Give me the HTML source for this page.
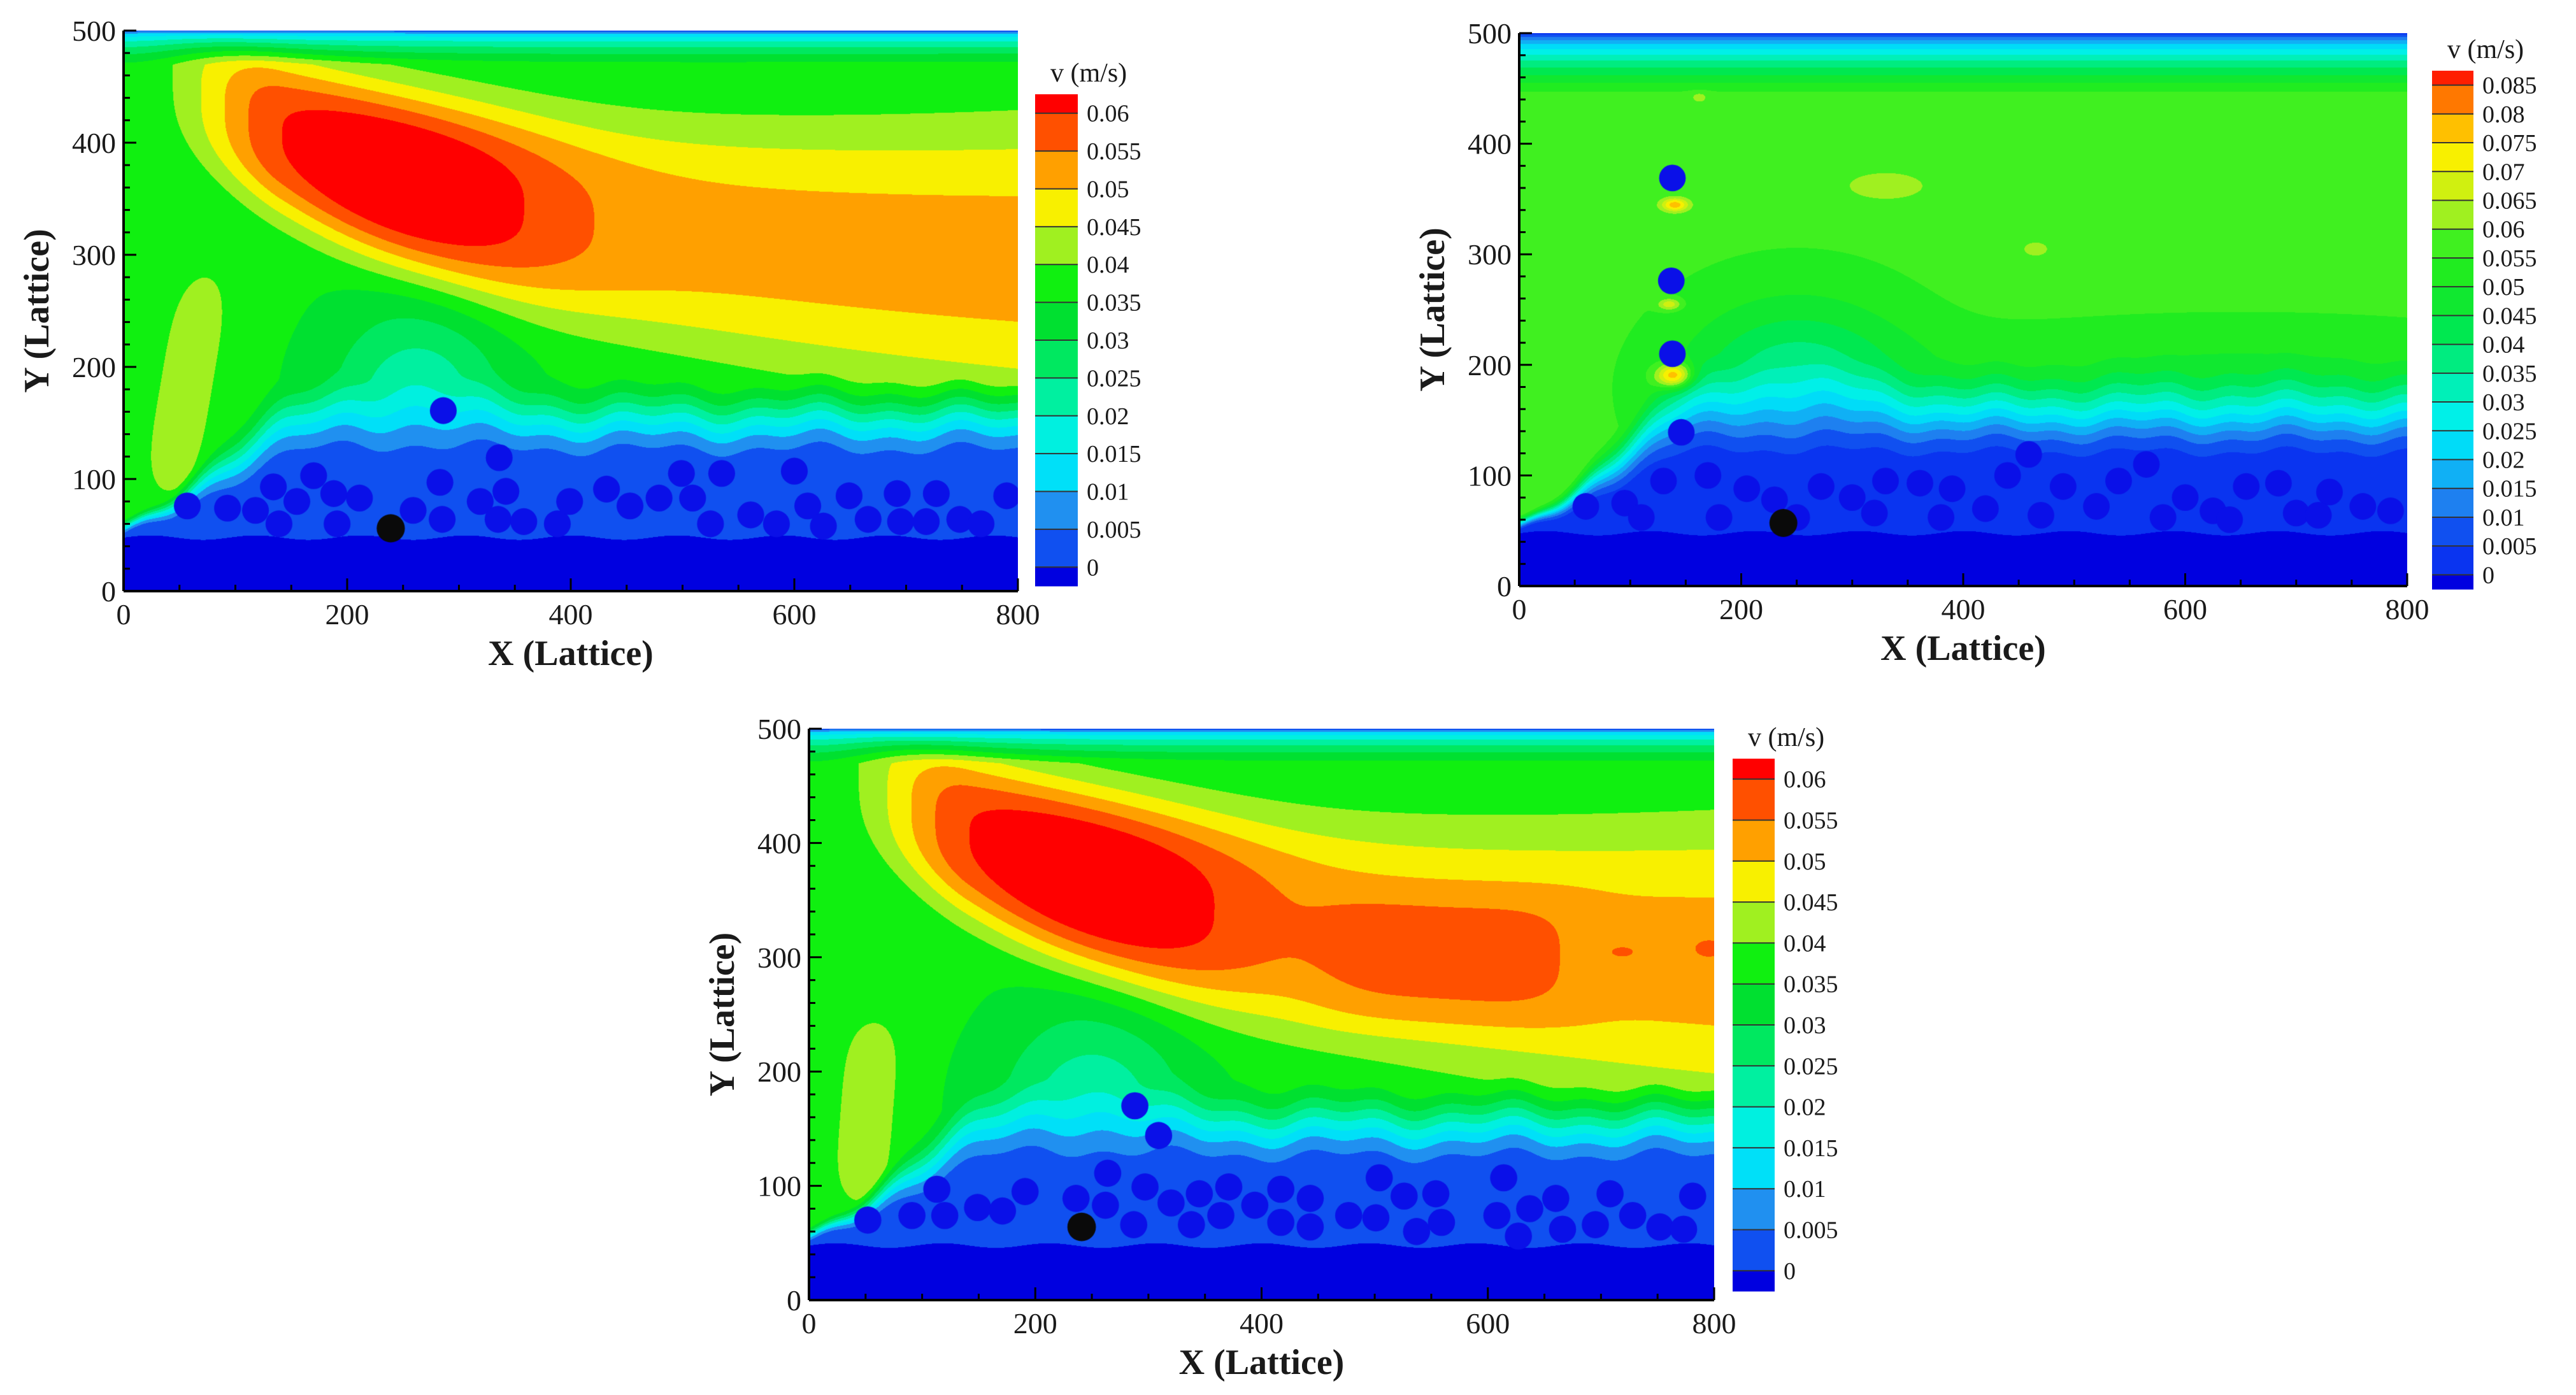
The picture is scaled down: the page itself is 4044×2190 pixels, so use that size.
<!DOCTYPE html>
<html><head><meta charset="utf-8">
<style>
html,body{margin:0;padding:0;background:#fff;}
#root{position:relative;width:4044px;height:2190px;overflow:hidden;background:#fff;}
canvas{position:absolute;}
svg{position:absolute;left:0;top:0;}
text{font-family:"Liberation Serif",serif;fill:#1a1a1a;}
</style></head>
<body>
<div id="root">
<canvas id="c1"></canvas>
<canvas id="c2"></canvas>
<canvas id="c3"></canvas>
<svg id="ov" width="4044" height="2190"></svg>
</div>
<script>
// ---- data ----
const xTicks = [0,200,400,600,800];
const yTicks = [0,100,200,300,400,500];
const cbLabels1 = ["0","0.005","0.01","0.015","0.02","0.025","0.03","0.035","0.04","0.045","0.05","0.055","0.06"];
const cbLabels2 = ["0","0.005","0.01","0.015","0.02","0.025","0.03","0.035","0.04","0.045","0.05","0.055","0.06","0.065","0.07","0.075","0.08","0.085"];
const colors1 = ["#0000e0","#1050f0","#2090f0","#00e0f8","#00f0e0","#00f0a0","#00e860","#00e030","#10f010","#a0f020","#f8f000","#ffa000","#ff5000","#ff0000"];
const colors2 = ["#0000e0","#0a34f0","#1050f0","#1e80f0","#10b0f5","#00dcf8","#00f0e8","#00f0b8","#00ec80","#00e850","#10e830","#20ec20","#40f020","#a0f020","#d0f010","#f8f000","#ffc000","#ff7800","#ff1e00"];
const particles1X = [286,336,283,57,93,118,134,155,170,188,211,139,191,259,285,319,342,335,358,388,399,432,453,479,499,509,525,535,561,584,600,612,626,649,666,692,695,727,718,748,767,790];
const particles1Y = [161,119,97,76,74,72,93,80,103,87,83,60,60,72,64,80,89,64,62,60,80,91,76,83,105,83,60,105,68,60,107,76,58,85,64,87,62,87,62,64,60,85];
const particles2X = [138,137,138,146,459,565,361,684,272,60,95,130,170,205,230,300,330,390,420,440,490,520,540,600,625,655,700,730,760,785,110,180,250,320,380,470,580,640,720];
const particles2Y = [369,276,210,139,119,110,93,93,90,72,75,95,100,88,78,80,95,88,70,100,90,72,95,80,68,90,66,85,72,68,62,62,62,66,62,64,62,60,64];
const particles3X = [288,309,264,113,191,297,236,262,320,345,371,394,417,443,504,526,554,614,608,637,660,708,728,781,52,91,120,149,171,287,338,364,417,443,477,501,537,559,627,666,695,752,773];
const particles3Y = [170,144,111,97,95,99,89,83,85,93,99,83,97,89,107,91,93,107,74,80,89,93,74,91,70,74,74,81,78,66,66,74,68,64,74,72,60,68,56,62,66,64,62];
const black1 = [239,56], black2 = [238,57], black3 = [241,64];

// ---- helpers ----
function cl(t){return t<0?0:t>1?1:t;}
function sm(a,b,x){const t=cl((x-a)/(b-a));return t*t*(3-2*t);}
function G(x,y,cx,cy,sx,sy){const dx=(x-cx)/sx,dy=(y-cy)/sy;return Math.exp(-dx*dx-dy*dy);}

function field1(x,y,v3){
  if(y<48+2*Math.sin(x/15)) return -0.001;
  const hb=50+65*sm(0,170,x)+4*Math.sin(x/23)+3*Math.sin(x/9.7);
  let m=0.036;
  const yc=285+175*Math.exp(-(x-40)/280);
  const sg=60+0.075*x;
  const A=(0.0155+0.0155*Math.exp(-Math.pow((x-250)/140,2)))*sm(0,140,x);
  const q=Math.abs((y-yc)/sg);
  m+=A*Math.exp(-q*q*q);
  if(!v3){
    const bc=40+(y-90)*0.17;
    m+=0.009*Math.exp(-Math.pow((x-bc)/26,2))*Math.exp(-Math.pow((y-185)/100,4));
    m-=0.016*G(x,y,262,165,75,85);
  } else {
    const bc=45+(y-90)*0.08;
    m+=0.009*Math.exp(-Math.pow((x-bc)/26,2))*Math.exp(-Math.pow((y-165)/82,4));
    m-=0.016*G(x,y,250,160,80,90);
    m+=0.0055*Math.exp(-Math.pow((x-565)/120,4)-Math.pow((y-298)/60,4));
    m+=0.004*G(x,y,720,305,18,8)+0.005*G(x,y,795,308,20,12);
  }
  const tf=cl((500-y)/30); m*=Math.sqrt(tf);
  const tw=15+65*sm(0,150,x);
  const s=sm(hb,hb+tw,y);
  return 0.003+(m-0.003)*s;
}
function field2(x,y){
  if(y<48+2*Math.sin(x/15)) return -0.001;
  const hb=50+60*sm(0,160,x)+3*Math.sin(x/21)+2*Math.sin(x/8.3);
  let m=0.0565;
  m+=0.006*G(x,y,330,362,45,16)+0.006*G(x,y,465,305,14,8)+0.005*G(x,y,162,442,9,6);
  m+=0.022*G(x,y,140,345,12,6)+0.03*G(x,y,140,190,16,11)+0.014*G(x,y,135,255,10,5);
  m-=0.022*G(x,y,250,175,100,80);
  m-=0.008*G(x,y,650,190,280,45);
  const tf=cl((500-y)/55); m*=Math.pow(tf,0.6);
  const tw=15+85*sm(0,160,x);
  const s=sm(hb,hb+tw,y);
  return 0.003+(m-0.003)*s;
}
function hex(c){return [parseInt(c.substr(1,2),16),parseInt(c.substr(3,2),16),parseInt(c.substr(5,2),16)];}

const panels=[
 {id:"c1",L:194,T:48,W:1404,H:880,cb:[1625,148,67,772],labels:cbLabels1,colors:colors1,f:(x,y)=>field1(x,y,false),px:particles1X,py:particles1Y,blk:black1,n:1},
 {id:"c2",L:2385,T:52,W:1394,H:868,cb:[3818,111,65,814],labels:cbLabels2,colors:colors2,f:field2,px:particles2X,py:particles2Y,blk:black2,n:2},
 {id:"c3",L:1270,T:1144,W:1421,H:897,cb:[2720,1191,66,836],labels:cbLabels1,colors:colors1,f:(x,y)=>field1(x,y,true),px:particles3X,py:particles3Y,blk:black3,n:3}
];
const NS="http://www.w3.org/2000/svg";
const ov=document.getElementById("ov");
function el(tag,attrs,parent,txt){const e=document.createElementNS(NS,tag);for(const k in attrs)e.setAttribute(k,attrs[k]);if(txt!==undefined)e.textContent=txt;(parent||ov).appendChild(e);return e;}

panels.forEach(p=>{
  const cv=document.getElementById(p.id);
  cv.width=p.W;cv.height=p.H;cv.style.left=p.L+"px";cv.style.top=p.T+"px";
  const ctx=cv.getContext("2d");
  const img=ctx.createImageData(p.W,p.H);
  const rgb=p.colors.map(hex);const nc=rgb.length;
  for(let j=0;j<p.H;j++){
    const y=(p.H-j)/p.H*500;
    for(let i=0;i<p.W;i++){
      const x=i/p.W*800;
      const v=p.f(x,y);
      let k=Math.floor(v/0.005)+1; if(v<0)k=0; if(k>nc-1)k=nc-1;
      const c=rgb[k],o=(j*p.W+i)*4;
      img.data[o]=c[0];img.data[o+1]=c[1];img.data[o+2]=c[2];img.data[o+3]=255;
    }
  }
  ctx.putImageData(img,0,0);
  const sx=x=>x/800*p.W, sy=y=>p.H-y/500*p.H;
  const r=12/800*p.W;
  ctx.fillStyle="#0a10e8";
  for(let i=0;i<p.px.length;i++){ctx.beginPath();ctx.arc(sx(p.px[i]),sy(p.py[i]),r,0,Math.PI*2);ctx.fill();}
  ctx.fillStyle="#0a0a0a";ctx.beginPath();ctx.arc(sx(p.blk[0]),sy(p.blk[1]),r*1.05,0,Math.PI*2);ctx.fill();

  // axes
  const g=el("g",{});
  
  
  const X=x=>p.L+x/800*p.W, Y=y=>p.T+p.H-y/500*p.H;
  el("line",{x1:p.L,y1:p.T,x2:p.L,y2:p.T+p.H,stroke:"#000","stroke-width":4},g);
  el("line",{x1:p.L,y1:p.T+p.H,x2:p.L+p.W,y2:p.T+p.H,stroke:"#000","stroke-width":4},g);
  for(let x=0;x<=800;x+=50){const mj=x%200===0;el("line",{x1:X(x),y1:p.T+p.H,x2:X(x),y2:p.T+p.H-(mj?20:10),stroke:"#000","stroke-width":3},g);}
  for(let y=0;y<=500;y+=20){const mj=y%100===0;el("line",{x1:p.L,y1:Y(y),x2:p.L+(mj?20:10),y2:Y(y),stroke:"#000","stroke-width":3},g);}
  xTicks.forEach(t=>{const e=el("text",{x:X(t),y:p.T+p.H+52,"font-size":46,"text-anchor":"middle"},g,String(t));
    });
  yTicks.forEach(t=>{const e=el("text",{x:p.L-12,y:Y(t)+16,"font-size":46,"text-anchor":"end"},g,String(t));
    });
  const xt=el("text",{x:p.L+p.W/2,y:p.T+p.H+116,"font-size":56,"font-weight":"bold","text-anchor":"middle"},g,"X (Lattice)");
  
  const cx=p.L-118,cy=p.T+p.H/2;
  const yt=el("text",{x:cx,y:cy,"font-size":56,"font-weight":"bold","text-anchor":"middle",transform:"rotate(-90 "+cx+" "+cy+")"},g,"Y (Lattice)");
  

  // colorbar
  const [bx,by,bw,bh]=p.cb;const n=p.labels.length;const unit=bh/n;
  const cbg=el("g",{},g);
  
  
  for(let k=0;k<p.colors.length;k++){
    let y0,y1;
    if(k===0){y0=by+bh-unit/2;y1=by+bh;}
    else if(k===p.colors.length-1){y0=by;y1=by+unit/2;}
    else{y1=by+bh-unit*(k-0.5);y0=y1-unit;}
    el("rect",{x:bx,y:y0,width:bw,height:y1-y0+0.5,fill:p.colors[k]},cbg);
  }
  p.labels.forEach((lb,k)=>{
    const yy=by+bh-unit*(0.5+k);
    el("line",{x1:bx,y1:yy,x2:bx+bw,y2:yy,stroke:"#333","stroke-width":2},cbg);
    const e=el("text",{x:bx+bw+14,y:yy+13,"font-size":38},cbg,lb);
    
  });
  const ttl=el("text",{x:bx+24,y:by-20,"font-size":42},cbg,"v (m/s)");
  
});
</script>
</body></html>
